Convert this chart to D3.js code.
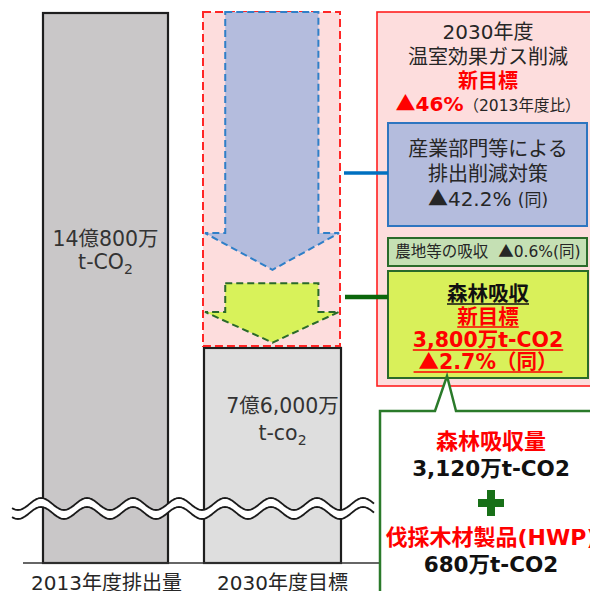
<!DOCTYPE html>
<html>
<head>
<meta charset="utf-8">
<script src="https://cdn.jsdelivr.net/npm/d3@7/dist/d3.min.js"></script>
<style>
  html, body { margin: 0; padding: 0; background: #fff; }
  svg { display: block; font-family: "DejaVu Sans", "Noto Sans CJK JP", sans-serif; }
  .tri { font-family: "Noto Sans CJK JP", sans-serif; }
</style>
</head>
<body>
<svg id="chart" width="590" height="591"></svg>
<script>
// ---- data (万t-CO2 and % of 2013 emissions) ----
const categories = ["2013年度排出量", "2030年度目標"];
const emissions = [140800, 76000];
const emissionLabels = ["14億800万", "7億6,000万"];
const unitLabels = ["t-CO", "t-co"];
const axisFloor = 34400;              // value hidden below the axis break

const totalCutPct = 46;
const cutItems = ["産業部門等による排出削減対策", "農地等の吸収", "森林吸収"];
const cutPct = [42.2, 0.6, 2.7];
const forestParts = ["森林吸収量", "伐採木材製品(HWP)"];
const forestValues = [3120, 680];
const forestTotal = 3800;

// ---- layout ----
const svg = d3.select("#chart");
const fmt = d3.format(",");
const ink = "#262626";

// write "▲" with the full-width CJK triangle, the rest in the default face
function withTriangle(sel, str) {
  str.split(/(▲)/).filter(s => s.length).forEach(s => {
    const t = sel.append("tspan").text(s);
    if (s === "▲") t.attr("class", "tri");
  });
  return sel;
}

const y = d3.scaleLinear().domain([axisFloor, emissions[0]]).range([563, 13]);
const x = d3.scalePoint().domain(categories).range([105.5, 272.5]);
const halfWidth = { "2013年度排出量": 62.5, "2030年度目標": 68.5 };
const barFill = ["#c9c7c8", "#dedede"];
const baseY = y(axisFloor);

const bars = categories.map((c, i) => ({
  c, v: emissions[i], label: emissionLabels[i], unit: unitLabels[i],
  x0: x(c) - halfWidth[c], x1: x(c) + halfWidth[c], fill: barFill[i]
}));

// bars
svg.append("g").selectAll("rect").data(bars).join("rect")
  .attr("x", d => d.x0).attr("y", d => y(d.v))
  .attr("width", d => d.x1 - d.x0).attr("height", d => baseY - y(d.v))
  .attr("fill", d => d.fill).attr("stroke", "#1e1e1e").attr("stroke-width", 2.2);

// reduction band on the 2030 bar (pink dashed box)
const b2 = bars[1];
const cutTop = y(emissions[0]) - 1, cutBot = y(emissions[1]) - 2;
svg.append("rect")
  .attr("x", b2.x0 - 1).attr("y", cutTop)
  .attr("width", b2.x1 - b2.x0).attr("height", cutBot - cutTop)
  .attr("fill", "#fddddd").attr("stroke", "#ff2626").attr("stroke-width", 2)
  .attr("stroke-dasharray", "8,4");

// arrows inside the band
const bw = b2.x1 - b2.x0, bh = cutBot - cutTop;
const cx = (b2.x0 + b2.x1) / 2;
function arrowPath(top, shoulder, tip) {
  const sL = b2.x0 + bw * 0.155, sR = b2.x1 - bw * 0.165;
  const hL = b2.x0 + 1, hR = b2.x1 - 2;
  return d3.line()([[sL, top], [sR, top], [sR, shoulder], [hR, shoulder],
    [cx, tip], [hL, shoulder], [sL, shoulder]]) + "Z";
}
svg.append("path")
  .attr("d", arrowPath(cutTop, cutTop + bh * 0.662, cutTop + bh * 0.772))
  .attr("fill", "#b4bcdd").attr("stroke", "#2f7fc8").attr("stroke-width", 2)
  .attr("stroke-dasharray", "7,4");
svg.append("path")
  .attr("d", arrowPath(cutTop + bh * 0.812, cutTop + bh * 0.898, cutTop + bh * 0.99))
  .attr("fill", "#d8f25a").attr("stroke", "#2a6a2a").attr("stroke-width", 2)
  .attr("stroke-dasharray", "7,4");

// bar value labels
const waveTop = 498;
bars.forEach((d, i) => {
  const mid = (y(d.v) + waveTop) / 2;
  const tx = x(d.c) + (i === 1 ? 10 : 0);
  svg.append("text").attr("x", tx).attr("y", mid - 10)
    .attr("text-anchor", "middle").attr("font-size", 20.5).attr("fill", "#333")
    .text(d.label);
  const t = svg.append("text").attr("x", tx).attr("y", mid + 13 + i * 4)
    .attr("text-anchor", "middle").attr("font-size", 20.5).attr("fill", "#333");
  t.append("tspan").text(d.unit);
  t.append("tspan").attr("font-size", 14).attr("dy", 5).text("2");
});

// baseline
svg.append("line").attr("x1", 23).attr("x2", 380).attr("y1", baseY).attr("y2", baseY)
  .attr("stroke", "#333").attr("stroke-width", 1.5);

// axis break wave
const wx = d3.range(12, 375, 1);
const wave = (xx, c) => c - 6 * Math.cos(2 * Math.PI * (xx - 41) / 46);
const upper = wx.map(v => [v, wave(v, 504)]);
const lower = wx.map(v => [v, wave(v, 513)]);
svg.append("path")
  .attr("d", d3.line()(upper.concat(lower.slice().reverse())) + "Z")
  .attr("fill", "#fff");
[upper, lower].forEach(pts => svg.append("path").attr("d", d3.line().curve(d3.curveBasis)(pts))
  .attr("fill", "none").attr("stroke", "#1a1a1a").attr("stroke-width", 1.8));

// category labels
svg.append("g").selectAll("text").data(categories).join("text")
  .attr("x", (c, i) => x(c) + (i === 1 ? 10 : 1)).attr("y", 590)
  .attr("text-anchor", "middle").attr("font-size", 20).attr("fill", ink)
  .text(c => c);

// ---- right-hand panel ----
const px = 488;
svg.append("rect").attr("x", 377).attr("y", 12).attr("width", 240).attr("height", 374)
  .attr("fill", "#fddddd").attr("stroke", "#ff2020").attr("stroke-width", 1.6);

const title = [["2030年度", ink, 400], ["温室効果ガス削減", ink, 400], ["新目標", "#ff0000", 700]];
title.forEach((t, i) => svg.append("text").attr("x", px).attr("y", 39 + i * 24.5)
  .attr("text-anchor", "middle").attr("font-size", 20).attr("font-weight", t[2])
  .attr("fill", t[1]).text(t[0]));
const t46 = svg.append("text").attr("x", px).attr("y", 111).attr("text-anchor", "middle");
withTriangle(t46.append("tspan").attr("font-size", 20).attr("font-weight", 700).attr("fill", "#ff0000"),
  `▲${totalCutPct}%`);
t46.append("tspan").attr("font-size", 15.5).attr("fill", ink).text("（2013年度比）");

// industry measures box
svg.append("rect").attr("x", 388).attr("y", 123).attr("width", 199).attr("height", 103)
  .attr("fill", "#b4bcdd").attr("stroke", "#2e75c0").attr("stroke-width", 2);
["産業部門等による", "排出削減対策"].forEach((s, i) => svg.append("text")
  .attr("x", px).attr("y", 156 + i * 25).attr("text-anchor", "middle")
  .attr("font-size", 20).attr("fill", ink).text(s));
const t42 = svg.append("text").attr("x", px).attr("y", 206).attr("text-anchor", "middle").attr("fill", ink);
withTriangle(t42.append("tspan").attr("font-size", 20), `▲${cutPct[0]}% `);
t42.append("tspan").attr("font-size", 17).text("(同)");

// farmland box
svg.append("rect").attr("x", 388).attr("y", 238).attr("width", 199).attr("height", 28)
  .attr("fill", "#c5e0b4").attr("stroke", "#2a6a2a").attr("stroke-width", 2);
withTriangle(svg.append("text").attr("x", px).attr("y", 257).attr("text-anchor", "middle")
  .attr("font-size", 15.5).attr("fill", ink).attr("xml:space", "preserve"),
  `${cutItems[1]}  ▲${cutPct[1]}%(同)`);

// forest box
svg.append("rect").attr("x", 388).attr("y", 271).attr("width", 200).attr("height", 107)
  .attr("fill", "#d9f05a").attr("stroke", "#2a6a2a").attr("stroke-width", 2);
const forestLines = [
  [cutItems[2], "#111", 301],
  ["新目標", "#ff0000", 324],
  [`${fmt(forestTotal)}万t-CO2`, "#ff0000", 347],
  [`▲${cutPct[2]}%（同）`, "#ff0000", 369]
];
forestLines.forEach((l, i) => {
  const t = withTriangle(svg.append("text").attr("x", px).attr("y", l[2]).attr("text-anchor", "middle")
    .attr("font-size", 20.5).attr("font-weight", 700).attr("fill", l[1]), l[0]);
  const w = t.node().getComputedTextLength() + (i === 3 ? 10 : 0);
  svg.append("line").attr("x1", px - w / 2).attr("x2", px + w / 2)
    .attr("y1", l[2] + 3).attr("y2", l[2] + 3)
    .attr("stroke", l[1]).attr("stroke-width", 1.5);
});

// connectors
svg.append("line").attr("x1", 344).attr("x2", 388).attr("y1", 173).attr("y2", 173)
  .attr("stroke", "#0070c0").attr("stroke-width", 3.5);
svg.append("line").attr("x1", 345).attr("x2", 388).attr("y1", 297).attr("y2", 297)
  .attr("stroke", "#0b660b").attr("stroke-width", 4.5);

// breakdown callout
svg.append("path")
  .attr("d", d3.line()([[380, 600], [380, 411], [435, 411], [447, 376], [456, 411], [620, 411], [620, 600]]))
  .attr("fill", "#fff").attr("stroke", "#2a7a2a").attr("stroke-width", 2.5);
const cx2 = 491;
svg.append("text").attr("x", cx2).attr("y", 449).attr("text-anchor", "middle")
  .attr("font-size", 22).attr("font-weight", 700).attr("fill", "#ff0000").text(forestParts[0]);
svg.append("text").attr("x", cx2).attr("y", 476).attr("text-anchor", "middle")
  .attr("font-size", 21.5).attr("font-weight", 700).attr("fill", "#111")
  .text(`${fmt(forestValues[0])}万t-CO2`);
svg.append("path")
  .attr("d", `M${cx2 - 4},490 h8 v9 h9 v8 h-9 v9 h-8 v-9 h-9 v-8 h9 Z`)
  .attr("fill", "#187018");
svg.append("text").attr("x", cx2).attr("y", 545).attr("text-anchor", "middle")
  .attr("font-size", 22).attr("font-weight", 700).attr("fill", "#ff0000").text(forestParts[1]);
svg.append("text").attr("x", cx2).attr("y", 572).attr("text-anchor", "middle")
  .attr("font-size", 21.5).attr("font-weight", 700).attr("fill", "#111")
  .text(`${fmt(forestValues[1])}万t-CO2`);
</script>
</body>
</html>
